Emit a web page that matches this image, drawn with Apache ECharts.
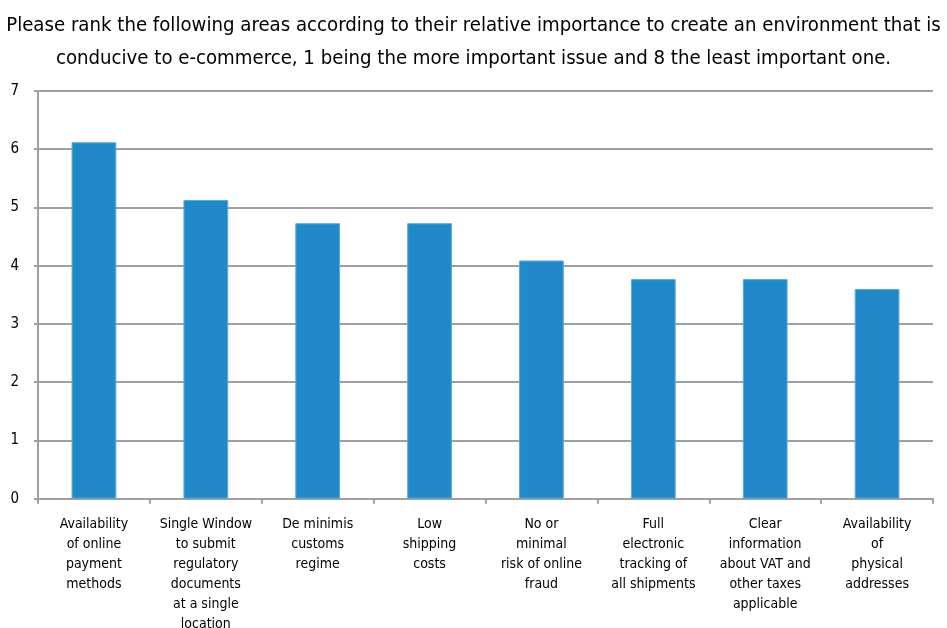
<!DOCTYPE html>
<html><head><meta charset="utf-8">
<script src="https://cdn.jsdelivr.net/npm/echarts@6/dist/echarts.min.js"></script>
<style>html,body{margin:0;padding:0;background:#fff}#c{width:947px;height:628px}</style>
</head><body><div id="c"></div>
<script>
const titleText = "Please rank the following areas according to their relative importance to create an environment that is\nconducive to e-commerce, 1 being the more important issue and 8 the least important one.";
const categories = [
  "Availability\nof online\npayment\nmethods",
  "Single Window\nto submit\nregulatory\ndocuments\nat a single\nlocation",
  "De minimis\ncustoms\nregime",
  "Low\nshipping\ncosts",
  "No or\nminimal\nrisk of online\nfraud",
  "Full\nelectronic\ntracking of\nall shipments",
  "Clear\ninformation\nabout VAT and\nother taxes\napplicable",
  "Availability\nof\nphysical\naddresses"
];
const values = [6.12, 5.13, 4.73, 4.73, 4.09, 3.77, 3.77, 3.60];
const yTicks = [0, 1, 2, 3, 4, 5, 6, 7];

const FONT = "'DejaVu Sans Condensed', 'Liberation Sans Narrow', sans-serif";
const chart = echarts.init(document.getElementById('c'), null, {renderer: 'canvas'});
chart.setOption({
  animation: false,
  title: {
    text: titleText,
    left: 'center',
    top: 4,
    textStyle: {fontFamily: FONT, fontSize: 20.2, fontWeight: 'normal', color: '#000', lineHeight: 33}
  },
  grid: {left: 38, right: 14, top: 91, bottom: 129.3, containLabel: false, outerBoundsMode: 'none'},
  xAxis: {
    type: 'category',
    data: categories,
    axisLine: {lineStyle: {color: '#a0a0a0', width: 2}},
    axisTick: {show: true, alignWithLabel: false, length: 5, lineStyle: {color: '#a0a0a0', width: 2}},
    axisLabel: {interval: 0, fontFamily: FONT, fontSize: 14, color: '#000', lineHeight: 20, margin: 16}
  },
  yAxis: {
    type: 'value',
    min: yTicks[0],
    max: yTicks[yTicks.length - 1],
    interval: 1,
    axisLine: {show: true, lineStyle: {color: '#a0a0a0', width: 2}},
    axisTick: {show: true, length: 4, lineStyle: {color: '#a0a0a0', width: 2}},
    splitLine: {lineStyle: {color: '#a0a0a0', width: 2}},
    axisLabel: {fontFamily: FONT, fontSize: 15, color: '#000', margin: 19}
  },
  series: [{
    type: 'bar',
    data: values,
    barWidth: '40%',
    itemStyle: {color: '#2289c9', borderColor: '#5aaade', borderWidth: 1}
  }]
});
</script></body></html>
